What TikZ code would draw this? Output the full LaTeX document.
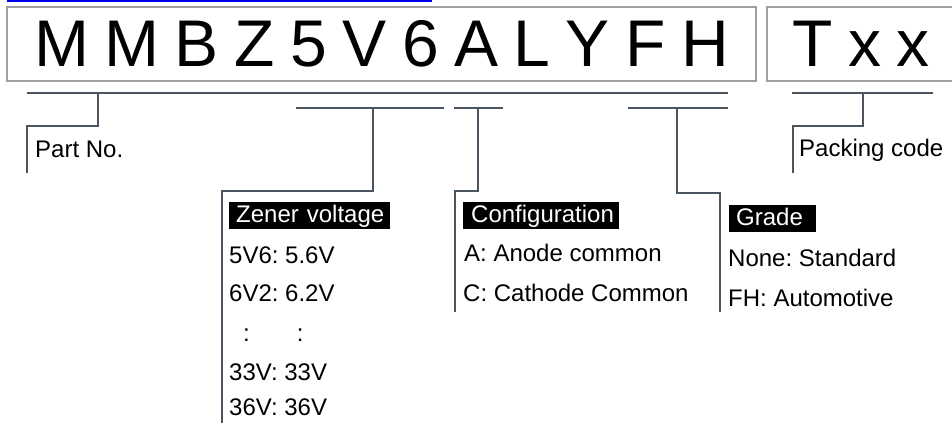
\documentclass[tikz,border=0pt]{standalone}
\usepackage{fontspec}
\setmainfont{Liberation Sans}
\usepackage{xcolor}
\usetikzlibrary{positioning,calc}
\definecolor{leadgray}{HTML}{4B5560}
\definecolor{framegray}{HTML}{A0A0A0}
\definecolor{linkblue}{HTML}{0000EE}
\frenchspacing
\newcommand{\codefont}{\fontsize{66}{66}\selectfont\spaceskip=15.5pt\relax}

\begin{document}
\begin{tikzpicture}[x=1pt,y=-1pt,
  codebox/.style={rectangle,draw=framegray,line width=1.5pt,inner sep=0pt,font=\codefont},
  bar/.style={draw=leadgray,line width=2.5pt},
  lead/.style={draw=leadgray,line width=2.5pt},
  head/.style={fill=black,text=white,anchor=base west,inner xsep=7pt,inner ysep=0pt,text height=21pt,text depth=6pt,align=left,font=\fontsize{24}{24}\selectfont},
  item/.style={anchor=base west,inner sep=0pt,font=\fontsize{24}{24}\selectfont}
]
\clip (0,0) rectangle (952,427);

% Link underline
\fill[linkblue] (7,0) rectangle (432,2.3);

% Code boxes
\node[codebox,minimum width=749pt,minimum height=74pt] (code) at (381.5,44) {M M B Z 5 V 6 A L Y F H};
\node[codebox,minimum width=188pt,minimum height=74pt] (pack) at (861,44) {T x x};

% Bars
\draw[bar] (27,93)  -- (728,93);
\draw[bar] (296,108) -- (444,108);
\draw[bar] (454,108) -- (503,108);
\draw[bar] (628,108) -- (728,108);
\draw[bar] (792,93) -- (933,93);

% Taps and feet
\coordinate (pn-tap)   at (98,93);
\coordinate (pn-foot)  at (27,173);
\coordinate (zv-tap)   at (373,108);
\coordinate (zv-foot)  at (222,423);
\coordinate (cf-tap)   at (478,108);
\coordinate (cf-foot)  at (455,312);
\coordinate (gr-tap)   at (677,108);
\coordinate (gr-foot)  at (720,312);
\coordinate (pk-tap)   at (863,93);
\coordinate (pk-foot)  at (793,173);

% Leads
\draw[lead] (pn-tap) -- ++(0,33) -| (pn-foot);
\draw[lead] (zv-tap) -- ++(0,83) -| (zv-foot);
\draw[lead] (cf-tap) -- ++(0,83) -| (cf-foot);
\draw[lead] (gr-tap) -- ++(0,85) -| (gr-foot);
\draw[lead] (pk-tap) -- ++(0,33) -| (pk-foot);

% Part No. / Packing code
\node[item] (pn)  at (35,158)  {Part No.};
\node[item] (pk)  at (799,157) {Packing code};

% Zener voltage
\node[head,text width=147pt] (zv) at (229,223) {\mbox{Zener voltage}};
\node[item] (zv1) at (229,263.3) {5V6: 5.6V};
\node[item] (zv2) at (229,301.7) {6V2: 6.2V};
\node[item] (zv3) at (243,341)   {:\hspace{47pt}:};
\node[item] (zv4) at (229,380)   {33V: 33V};
\node[item] (zv5) at (229,415)   {36V: 36V};

% Configuration
\node[head,text width=140pt,inner xsep=8pt] (cf) at (463,223) {\mbox{Configuration}};
\node[item] (cf1) at (464,262)   {A: Anode common};
\node[item] (cf2) at (463,301.7) {C: Cathode Common};

% Grade
\node[head,text width=73pt] (gr) at (729,226) {\mbox{Grade}};
\node[item] (gr1) at (728,267) {None: Standard};
\node[item] (gr2) at (728,306) {FH: Automotive};

\end{tikzpicture}
\end{document}
